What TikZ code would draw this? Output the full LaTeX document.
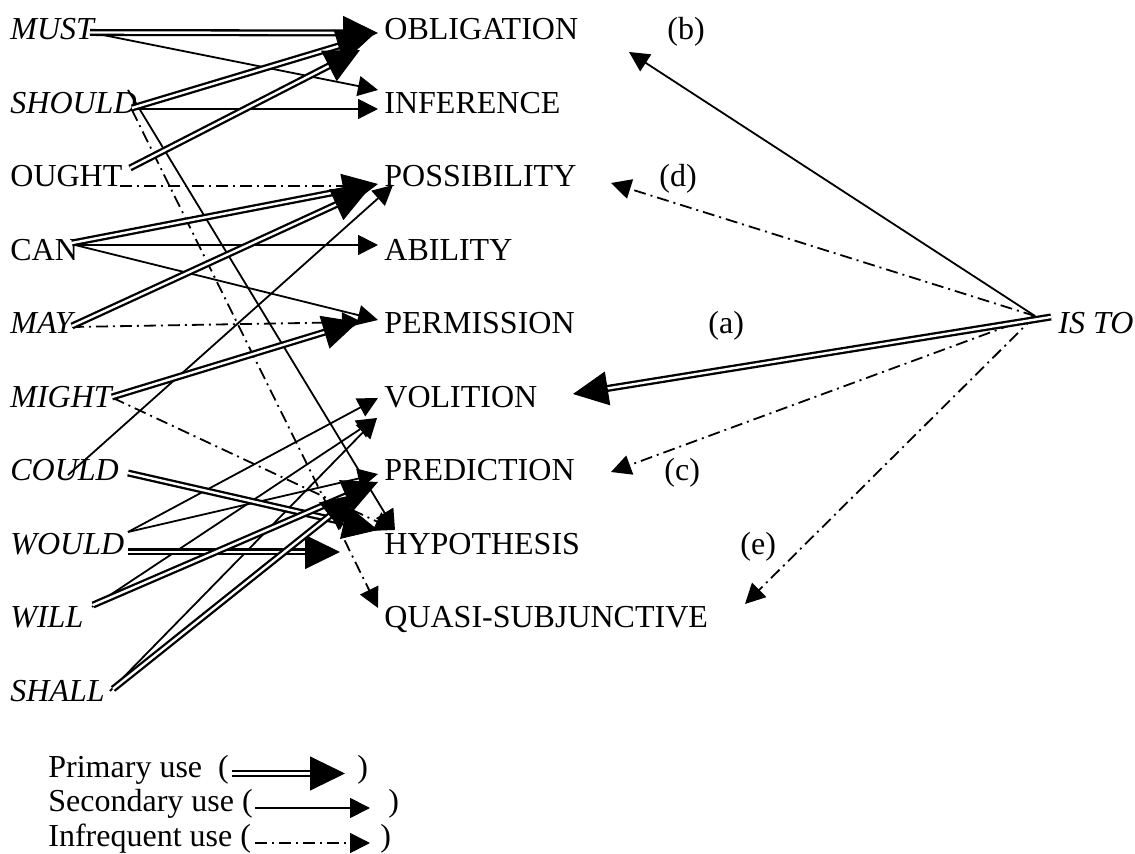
\documentclass[tikz,border=0pt]{standalone}
\usepackage{fontspec}
\setmainfont{Liberation Serif}
\usetikzlibrary{arrows.meta,calc}
\newcommand{\primarr}[2]{\draw[primline] (#1) -- ($(#2)!15pt!(#1)$); \draw[primhead] ($(#2)!2pt!(#1)$) -- (#2);}
\begin{document}
\begin{tikzpicture}[x=0.5pt,y=-0.5pt,
  lbl/.style={anchor=base west, inner sep=0pt, font=\fontsize{16}{19}\selectfont},
  ilbl/.style={anchor=base west, inner sep=0pt, font=\fontsize{16}{19}\selectfont\itshape},
  secarr/.style={line width=0.9pt, -{Triangle[length=10pt,width=10pt]}},
  infarr/.style={secarr, dash pattern=on 6pt off 2.5pt on 1pt off 2.5pt},
  primline/.style={line width=1.15pt, double=white, double distance=1.2pt},
  primhead/.style={line width=0.5pt, -{Triangle[length=17.5pt,width=17pt]}}]
\useasboundingbox (0,0) rectangle (1135,854);
% left column
\node[ilbl] (must) at (10,40) {MUST};
\node[ilbl] (should) at (10,113.5) {SHOULD};
\node[lbl] (ought) at (10,187) {OUGHT};
\node[lbl] (can) at (10,260.5) {CAN};
\node[ilbl] (may) at (10,334) {MAY};
\node[ilbl] (might) at (10,407.5) {MIGHT};
\node[ilbl] (could) at (10,481) {COULD};
\node[ilbl] (would) at (10,554.5) {WOULD};
\node[ilbl] (will) at (10,628) {WILL};
\node[ilbl] (shall) at (10,701.5) {SHALL};
% right column
\node[lbl] (obl) at (384,40) {OBLIGATION};
\node[lbl] (inf) at (384,113.5) {INFERENCE};
\node[lbl] (poss) at (384,187) {POSSIBILITY};
\node[lbl] (abil) at (384,260.5) {ABILITY};
\node[lbl] (perm) at (384,334) {PERMISSION};
\node[lbl] (vol) at (384,407.5) {VOLITION};
\node[lbl] (pred) at (384,481) {PREDICTION};
\node[lbl] (hyp) at (384,554.5) {HYPOTHESIS};
\node[lbl] (quasi) at (384,628) {QUASI-SUBJUNCTIVE};
\node[ilbl] (isto) at (1058,334) {IS TO};
% letters
\node[lbl] (lb) at (667,40) {(b)};
\node[lbl] (ld) at (659,187) {(d)};
\node[lbl] (la) at (708,334) {(a)};
\node[lbl] (lc) at (664,481) {(c)};
\node[lbl] (le) at (740,554.5) {(e)};
% start points
\coordinate (must-p) at (90,32.5);
\coordinate (must-s) at (93,33);
\coordinate (should-p) at (132,108);
\coordinate (should-s) at (135,109);
\coordinate (should-s2) at (128,90);
\coordinate (should-d) at (132,110);
\coordinate (ought-p) at (130,168);
\coordinate (ought-d) at (120,186);
\coordinate (can-p) at (72,243);
\coordinate (can-s) at (75,245);
\coordinate (may-p) at (72,326);
\coordinate (may-d) at (72,327);
\coordinate (might-p) at (112,397);
\coordinate (might-d) at (113,398);
\coordinate (could-s) at (68,475);
\coordinate (could-p) at (128,473);
\coordinate (would-s) at (128,532);
\coordinate (would-p) at (128,552);
\coordinate (will-s) at (92,607);
\coordinate (will-p) at (93,605);
\coordinate (shall-s) at (110,691);
\coordinate (shall-p) at (113,689);
\coordinate (isto-s) at (1035,316);
\coordinate (isto-p) at (1051,317);
% end points
\coordinate (obl-t1) at (378,33);
\coordinate (obl-t2) at (372,36);
\coordinate (obl-t3) at (360,50);
\coordinate (obl-t4) at (629,52);
\coordinate (inf-t1) at (378,90);
\coordinate (inf-t2) at (378,109);
\coordinate (poss-t1) at (378,184);
\coordinate (poss-t2) at (368,190);
\coordinate (poss-t3) at (393,185);
\coordinate (poss-t4) at (368,186);
\coordinate (poss-t5) at (611,183);
\coordinate (abil-t) at (378,245);
\coordinate (perm-t1) at (378,320);
\coordinate (perm-t2) at (362,322);
\coordinate (perm-t3) at (358,322);
\coordinate (vol-t1) at (378,398);
\coordinate (vol-t2) at (377,418);
\coordinate (vol-t3) at (573,394);
\coordinate (pred-t1) at (378,474);
\coordinate (pred-t2) at (378,482);
\coordinate (pred-t3) at (357,494);
\coordinate (pred-t4) at (611,472);
\coordinate (hyp-t1) at (395,530);
\coordinate (hyp-t2) at (378,530);
\coordinate (hyp-t3) at (340,552);
\coordinate (quasi-t1) at (378,608);
\coordinate (quasi-t2) at (745,604);
% secondary
\draw[secarr] (must-s) -- (inf-t1);
\draw[secarr] (should-s) -- (inf-t2);
\draw[secarr] (should-s2) -- (hyp-t1);
\draw[secarr] (can-s) -- (abil-t);
\draw[secarr] (can-s) -- (perm-t1);
\draw[secarr] (could-s) -- (poss-t3);
\draw[secarr] (would-s) -- (vol-t1);
\draw[secarr] (would-s) -- (pred-t1);
\draw[secarr] (will-s) -- (vol-t2);
\draw[secarr] (shall-s) -- (vol-t2);
\draw[secarr] (isto-s) -- (obl-t4);
% infrequent
\draw[infarr] (should-d) -- (quasi-t1);
\draw[infarr] (ought-d) -- (poss-t4);
\draw[infarr] (may-d) -- (perm-t2);
\draw[infarr] (might-d) -- (hyp-t1);
\draw[infarr] (isto-s) -- (poss-t5);
\draw[infarr] (isto-s) -- (pred-t4);
\draw[infarr] (isto-s) -- (quasi-t2);
% primary
\primarr{must-p}{obl-t1}
\primarr{should-p}{obl-t2}
\primarr{ought-p}{obl-t3}
\primarr{can-p}{poss-t1}
\primarr{may-p}{poss-t2}
\primarr{might-p}{perm-t3}
\primarr{could-p}{hyp-t2}
\primarr{would-p}{hyp-t3}
\primarr{will-p}{pred-t2}
\primarr{shall-p}{pred-t3}
\primarr{isto-p}{vol-t3}
% legend
\node[lbl] (leg1) at (48,777) {Primary use\ \ (};
\node[lbl] (leg2) at (48,812) {Secondary use (};
\node[lbl] (leg3) at (48,846) {Infrequent use (};
\node[lbl] (leg1c) at (357,777) {)};
\node[lbl] (leg2c) at (388,812) {)};
\node[lbl] (leg3c) at (380,846) {)};
\coordinate (lp-s) at (232,773.5);
\coordinate (lp-t) at (345,773.5);
\coordinate (ls-s) at (255,808);
\coordinate (ls-t) at (370,808);
\coordinate (li-s) at (255,843);
\coordinate (li-t) at (370,843);
\primarr{lp-s}{lp-t}
\draw[secarr] (ls-s) -- (ls-t);
\draw[infarr] (li-s) -- (li-t);
\end{tikzpicture}
\end{document}
